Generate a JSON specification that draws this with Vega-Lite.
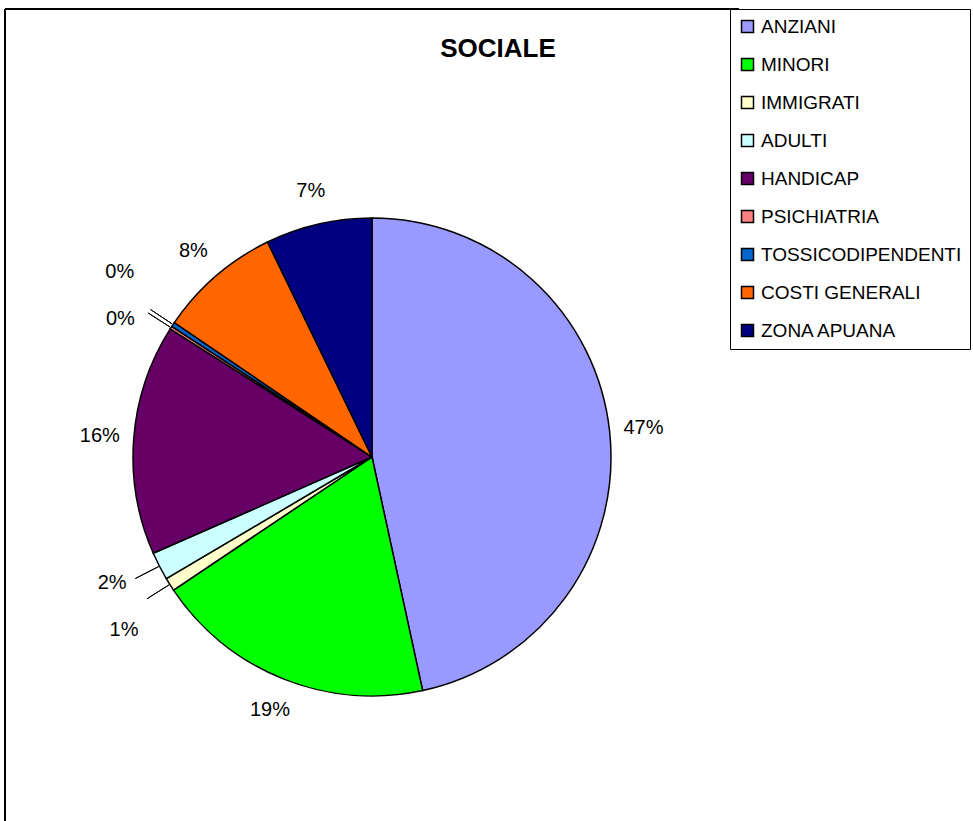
{
  "$schema": "https://vega.github.io/schema/vega-lite/v6.json",
  "autosize": "none",
  "width": 734,
  "height": 896,
  "padding": {"left": 5, "top": 9, "right": 234, "bottom": 0},
  "background": "white",
  "title": {
    "text": "SOCIALE",
    "orient": "top",
    "anchor": "middle",
    "frame": "group",
    "offset": 0,
    "dx": 126,
    "dy": 75,
    "baseline": "alphabetic",
    "font": "Liberation Sans",
    "fontSize": 26,
    "fontWeight": "bold",
    "color": "black"
  },
  "data": {
    "values": [
      {"name": "ANZIANI", "ord": 1, "share": 0.466},
      {"name": "MINORI", "ord": 2, "share": 0.190},
      {"name": "IMMIGRATI", "ord": 3, "share": 0.009},
      {"name": "ADULTI", "ord": 4, "share": 0.019},
      {"name": "HANDICAP", "ord": 5, "share": 0.156},
      {"name": "PSICHIATRIA", "ord": 6, "share": 0.002},
      {"name": "TOSSICODIPENDENTI", "ord": 7, "share": 0.003},
      {"name": "COSTI GENERALI", "ord": 8, "share": 0.083},
      {"name": "ZONA APUANA", "ord": 9, "share": 0.072}
    ]
  },
  "layer": [
    {
      "mark": {"type": "arc", "outerRadius": 239, "stroke": "black", "strokeWidth": 1.5},
      "encoding": {
        "theta": {"field": "share", "type": "quantitative", "stack": true},
        "order": {"field": "ord", "type": "quantitative"},
        "color": {
          "field": "name",
          "type": "nominal",
          "sort": ["ANZIANI", "MINORI", "IMMIGRATI", "ADULTI", "HANDICAP", "PSICHIATRIA", "TOSSICODIPENDENTI", "COSTI GENERALI", "ZONA APUANA"],
          "scale": {
            "domain": ["ANZIANI", "MINORI", "IMMIGRATI", "ADULTI", "HANDICAP", "PSICHIATRIA", "TOSSICODIPENDENTI", "COSTI GENERALI", "ZONA APUANA"],
            "range": ["#9999FF", "#00FF00", "#FFFFCC", "#CCFFFF", "#660066", "#FF8080", "#0066CC", "#FF6600", "#000080"]
          },
          "legend": {"title": null}
        }
      }
    },
    {
      "mark": {"type": "arc", "filled": false, "innerRadius": 240, "outerRadius": 266, "padAngle": 1, "stroke": "black", "strokeWidth": 1},
      "encoding": {
        "theta": {"field": "share", "type": "quantitative", "stack": true},
        "order": {"field": "ord", "type": "quantitative"},
        "detail": {"field": "name", "type": "nominal"},
        "strokeOpacity": {"condition": {"test": "datum.share < 0.025", "value": 1}, "value": 0}
      }
    },
    {
      "mark": {"type": "text", "radius": 273, "font": "Liberation Sans", "fontSize": 20, "fill": "black"},
      "encoding": {
        "theta": {"field": "share", "type": "quantitative", "stack": true},
        "order": {"field": "ord", "type": "quantitative"},
        "detail": {"field": "name", "type": "nominal"},
        "text": {"condition": {"test": "datum.share >= 0.05", "field": "share", "type": "quantitative", "format": ".0%"}, "value": ""}
      }
    },
    {
      "mark": {"type": "text", "radius": 273, "dx": -17, "dy": 27, "font": "Liberation Sans", "fontSize": 20, "fill": "black"},
      "encoding": {
        "theta": {"field": "share", "type": "quantitative", "stack": true},
        "order": {"field": "ord", "type": "quantitative"},
        "detail": {"field": "name", "type": "nominal"},
        "text": {"condition": {"test": "datum.name === 'IMMIGRATI'", "field": "share", "type": "quantitative", "format": ".0%"}, "value": ""}
      }
    },
    {
      "mark": {"type": "text", "radius": 273, "dx": -17, "dy": 1, "font": "Liberation Sans", "fontSize": 20, "fill": "black"},
      "encoding": {
        "theta": {"field": "share", "type": "quantitative", "stack": true},
        "order": {"field": "ord", "type": "quantitative"},
        "detail": {"field": "name", "type": "nominal"},
        "text": {"condition": {"test": "datum.name === 'ADULTI'", "field": "share", "type": "quantitative", "format": ".0%"}, "value": ""}
      }
    },
    {
      "mark": {"type": "text", "radius": 273, "dx": -22, "dy": 10, "font": "Liberation Sans", "fontSize": 20, "fill": "black"},
      "encoding": {
        "theta": {"field": "share", "type": "quantitative", "stack": true},
        "order": {"field": "ord", "type": "quantitative"},
        "detail": {"field": "name", "type": "nominal"},
        "text": {"condition": {"test": "datum.name === 'PSICHIATRIA'", "field": "share", "type": "quantitative", "format": ".0%"}, "value": ""}
      }
    },
    {
      "mark": {"type": "text", "radius": 273, "dx": -25, "dy": -34, "font": "Liberation Sans", "fontSize": 20, "fill": "black"},
      "encoding": {
        "theta": {"field": "share", "type": "quantitative", "stack": true},
        "order": {"field": "ord", "type": "quantitative"},
        "detail": {"field": "name", "type": "nominal"},
        "text": {"condition": {"test": "datum.name === 'TOSSICODIPENDENTI'", "field": "share", "type": "quantitative", "format": ".0%"}, "value": ""}
      }
    },
    {
      "data": {"values": [{"frame": "left"}]},
      "mark": {"type": "rule", "color": "black", "strokeWidth": 2},
      "encoding": {"x": {"value": 0}}
    },
    {
      "data": {"values": [{"frame": "top"}]},
      "mark": {"type": "rule", "color": "black", "strokeWidth": 2},
      "encoding": {"y": {"value": 0}}
    }
  ],
  "config": {
    "view": {"stroke": null},
    "legend": {
      "orient": "none",
      "legendX": 725,
      "legendY": 0,
      "symbolType": "square",
      "symbolSize": 144,
      "symbolStrokeColor": "black",
      "symbolStrokeWidth": 1.5,
      "symbolOpacity": 1,
      "labelFont": "Liberation Sans",
      "labelFontSize": 19,
      "labelColor": "black",
      "labelOffset": 4,
      "labelLimit": 300,
      "rowPadding": 18,
      "padding": 8,
      "strokeColor": "black",
      "fillColor": "white"
    }
  }
}
